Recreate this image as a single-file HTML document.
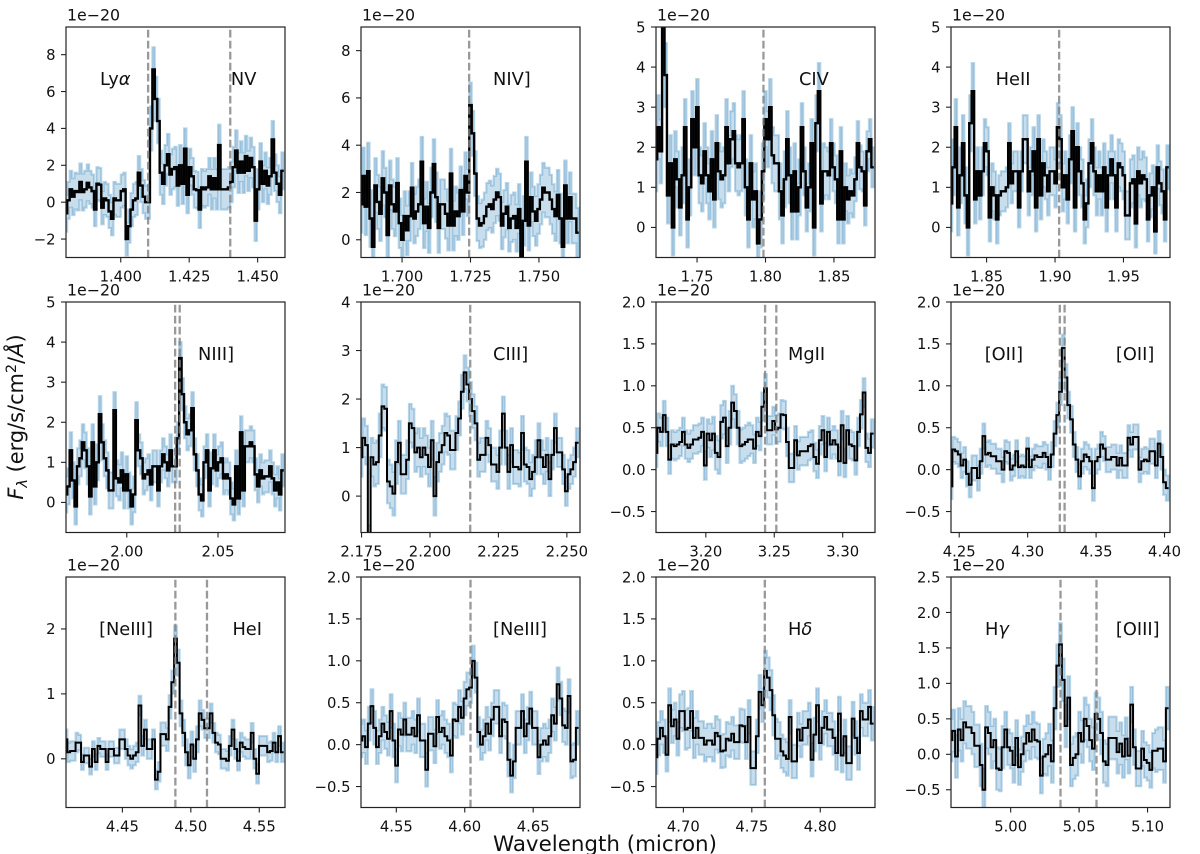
<!DOCTYPE html>
<html>
<head>
<meta charset="utf-8">
<style>
html,body{margin:0;padding:0;background:#fff;}
svg{display:block;}
text{font-family:"DejaVu Sans","Liberation Sans",sans-serif;fill:#111;}
</style>
</head>
<body>
<svg id="chart" width="1200" height="854" viewBox="0 0 1200 854" xmlns="http://www.w3.org/2000/svg">
<text x="605" y="851" font-size="21.4" text-anchor="middle">Wavelength (micron)</text>
<text transform="translate(23,417) rotate(-90)" font-size="20.9" text-anchor="middle"><tspan font-style="italic">F</tspan><tspan font-size="14.5" dy="4" font-style="italic">λ</tspan><tspan dy="-4"> (erg/s/cm</tspan><tspan font-size="14.5" dy="-7">2</tspan><tspan dy="7">/</tspan><tspan font-style="italic">Å</tspan><tspan>)</tspan></text>
</svg>
<script>
// ---- series values (flux per bin, units of 1e-20) ----
const fluxLya = [
-0.6,0.1,0.7,0.3,0.6,0.55,1.1,0.55,0.7,1.05,
0.8,0.6,-0.4,1.0,0.95,-0.3,0.2,0.1,-0.5,-0.9,
0.2,0.1,0.1,0.6,0.7,-2.0,-1.3,-0.4,0.1,0.2,
1.6,0.9,0.3,0.0,0.0,4.0,7.2,5.6,4.4,1.6,
1.0,2.0,2.6,1.5,1.8,1.9,0.9,2.0,1.0,2.9,
0.4,1.9,1.4,0.7,0.65,-0.4,0.8,0.7,0.8,1.4,
0.7,1.3,0.7,3.1,0.7,0.7,0.7,0.8,1.1,1.9,
2.8,1.6,2.2,1.6,2.5,1.7,2.4,1.9,-1.0,0.7,
2.2,1.0,1.7,0.9,1.4,3.4,1.6,1.0,0.4,1.7];
const errLya = [1.0,1.0,0.9,0.9,0.9,0.9,0.9,1.2,1.1,1.1,1.0,1.0,1.1,1.1,1.1,1.1,1.0,1.0];

const fluxNiv = [
1.5,2.7,1.4,2.9,0.9,-0.3,2.3,1.6,1.1,2.6,
2.0,0.2,2.3,1.5,1.2,2.4,0.7,0.0,1.0,0.4,
1.0,2.2,0.9,1.2,1.5,3.3,0.7,1.4,0.5,2.0,
3.2,1.8,0.5,1.5,1.5,1.1,0.6,2.8,0.6,1.2,
1.0,2.1,1.2,2.7,2.0,5.7,4.5,2.8,0.9,0.6,
0.7,1.0,1.4,1.5,1.3,1.7,2.0,1.8,0.6,1.1,
1.4,0.5,0.9,1.0,0.5,1.3,-0.8,0.8,3.3,0.6,
1.8,1.2,0.8,1.3,1.7,2.2,2.0,2.0,1.7,1.3,
1.0,1.9,0.9,-0.3,2.3,0.9,1.8,0.9,0.9,0.3];
const errNiv = [1.2,1.15,1.05,1.05,1.05,1.05,1.05,1.05,1.0,0.95,1.0,1.0,1.0,1.05,1.05,1.05,1.05,1.05];

const fluxCiv = [
1.7,2.5,1.9,5.2,3.8,0.8,1.6,0.0,1.7,1.2,
0.5,1.3,2.5,0.2,1.0,2.7,2.0,3.0,1.3,1.1,
1.9,1.3,0.9,1.7,0.7,2.1,1.4,1.2,1.3,2.5,
1.6,2.2,2.4,1.6,1.5,1.6,2.7,1.0,0.2,1.6,
0.7,0.9,-0.4,0.2,1.4,2.7,2.2,3.0,1.8,1.6,
1.6,0.9,0.3,1.2,2.2,1.3,0.4,1.4,0.4,1.0,
2.5,1.4,0.5,1.0,2.1,0.0,2.6,3.4,0.6,1.4,
1.4,1.3,2.1,1.5,1.2,0.2,1.9,0.2,1.0,0.7,
0.9,0.8,1.2,2.1,1.5,1.4,0.55,1.9,2.2,1.5];
const errCiv = [0.8,0.7,0.7,0.7,0.7,0.7,0.7,0.7,0.7,0.7,0.7,0.7,0.6,0.7,0.6,0.6,0.55,0.5];

const fluxHeii = [
0.6,1.5,2.5,0.5,1.3,2.1,0.8,0.0,2.6,3.4,
0.7,1.4,0.8,1.4,2.1,1.9,0.25,1.0,0.8,0.2,
0.8,0.9,0.9,1.0,2.1,1.1,1.4,1.4,0.5,1.4,
2.2,2.2,0.9,1.4,1.9,0.5,2.2,0.8,1.6,1.3,
0.9,1.4,1.4,1.1,2.5,2.2,1.0,1.3,0.7,1.7,
2.4,0.5,2.0,1.4,1.1,0.2,0.6,1.6,2.1,1.4,
0.9,1.3,0.9,1.5,0.5,1.3,1.7,1.3,0.5,1.6,
1.5,1.3,0.3,0.3,1.1,1.2,0.1,1.4,1.1,1.3,
1.2,0.2,0.8,1.0,-0.1,1.5,1.1,0.9,0.2,1.5];
const errHeii = [0.7,0.7,0.6,0.6,0.5,0.5,0.6,0.6,0.6,0.6,0.6,0.6,0.6,0.6,0.6,0.6,0.55,0.55];

const fluxNiii = [
0.2,0.4,1.3,0.55,-0.1,0.9,1.1,1.5,1.3,0.9,
0.15,1.5,0.4,1.0,2.2,1.5,1.1,0.8,0.3,0.3,
2.3,0.6,0.5,0.8,0.3,0.7,0.3,-0.1,0.2,2.05,
1.3,1.1,0.6,0.7,0.8,0.45,0.9,0.9,0.3,0.9,
1.2,1.0,0.8,1.3,0.9,0.9,1.6,3.6,2.7,2.0,
1.7,1.8,2.35,1.2,0.8,0.2,0.05,1.0,1.3,0.3,
0.85,1.3,0.8,1.0,1.1,0.6,0.7,0.6,0.1,-0.05,
0.9,0.1,1.75,0.3,1.4,1.4,1.5,1.4,0.7,0.4,
0.8,0.6,0.65,0.65,0.9,0.6,0.3,0.5,0.2,0.8];
const errNiii = [0.45,0.45,0.45,0.45,0.45,0.45,0.4,0.4,0.4,0.4,0.4,0.4,0.4,0.4,0.4,0.4,0.4,0.4];

const fluxCiii = [
0.8,1.2,1.05,-1.0,0.8,0.65,0.7,1.25,1.85,1.8,
0.3,0.2,0.05,0.7,1.1,0.45,0.45,0.75,1.5,1.4,
0.9,1.0,0.8,1.0,0.85,0.6,1.15,0.0,0.7,0.9,
1.05,1.3,1.25,0.95,0.95,1.3,1.6,2.15,2.55,2.3,
2.0,1.75,1.5,0.75,0.85,0.85,1.2,1.05,0.65,0.65,
0.5,1.0,1.7,1.0,0.5,1.05,0.6,0.6,0.55,1.3,
0.65,0.6,0.35,0.5,0.8,1.15,0.8,0.6,0.85,0.35,
0.85,1.4,0.9,0.9,0.55,0.1,0.45,0.55,0.7,1.1];
const errCiii = [0.4,0.45,0.45,0.4,0.4,0.4,0.4,0.35,0.35,0.35,0.35,0.35,0.35,0.35,0.3,0.3];

const fluxMgii = [
0.2,0.5,0.45,0.65,0.45,0.12,0.3,0.28,0.3,0.33,
0.45,0.3,0.26,0.3,0.36,0.36,0.38,0.45,0.05,0.43,
0.35,0.43,0.2,0.15,0.57,0.62,0.28,0.5,0.8,0.7,
0.5,0.28,0.3,0.33,0.36,0.36,0.25,0.45,0.4,0.75,
0.97,0.47,0.47,0.58,0.48,0.5,0.66,0.65,0.33,0.02,
0.02,0.35,0.17,0.22,0.22,0.22,0.28,0.3,0.15,0.07,
0.35,0.47,0.15,0.45,0.3,0.35,0.3,0.1,0.53,0.08,
0.47,0.3,0.28,0.11,0.45,0.66,0.92,0.26,0.2,0.43];
const errMgii = [0.17,0.17,0.17,0.17,0.2,0.2,0.2,0.17,0.17,0.17,0.17,0.17,0.17,0.17,0.17,0.17];

const fluxOii = [
-0.2,0.24,0.22,0.18,0.05,0.12,-0.05,-0.18,0.02,0.02,
-0.1,0.1,0.4,0.18,0.2,0.16,0.16,0.1,0.1,0.0,
0.22,0.2,0.0,0.05,0.22,0.03,0.05,0.03,0.25,0.03,
0.12,0.17,0.15,0.15,0.2,0.15,0.03,0.18,0.43,0.65,
0.93,1.45,1.1,0.77,0.6,0.3,0.12,-0.08,0.1,0.18,
0.15,0.1,-0.22,0.1,0.15,0.3,0.25,0.12,0.12,0.15,
0.15,0.05,0.14,0.05,0.05,0.38,0.3,0.39,0.39,0.0,
0.1,0.12,0.1,0.22,0.22,0.05,0.31,0.15,-0.15,-0.22];
const errOii = [0.15,0.15,0.15,0.15,0.13,0.13,0.13,0.15,0.16,0.15,0.15,0.15,0.15,0.15,0.15,0.15];

const fluxNeiiiA = [
0.3,0.1,0.12,0.12,0.25,0.25,-0.05,0.05,0.05,-0.12,
0.15,-0.05,0.2,0.15,0.15,-0.05,0.15,0.15,0.05,0.05,
0.3,0.3,0.15,0.05,0.0,0.05,0.1,0.82,0.2,0.45,
0.15,0.15,0.3,-0.32,-0.2,0.38,0.38,0.3,0.8,1.18,
1.85,1.48,0.7,0.4,0.1,-0.1,0.22,0.0,0.3,0.7,
0.6,0.47,0.47,0.7,0.4,0.25,0.22,0.0,0.0,-0.03,
0.2,0.45,0.15,-0.03,0.25,0.18,0.15,0.15,0.4,0.0,
-0.23,0.2,0.2,0.2,0.1,0.12,0.25,0.1,0.35,0.1];
const errNeiiiA = [0.15,0.12,0.12,0.12,0.15,0.15,0.15,0.18,0.2,0.2,0.15,0.15,0.15,0.15,0.15,0.15];

const fluxNeiiiB = [
0.05,0.1,-0.03,0.25,0.46,0.2,-0.03,0.1,0.25,0.15,
0.07,0.4,0.05,-0.25,0.18,0.12,0.3,0.12,0.12,0.2,
0.1,0.35,0.05,0.05,-0.3,0.13,0.13,-0.02,0.33,0.15,
0.2,0.1,0.05,-0.13,0.3,0.28,0.45,0.32,0.55,0.66,
0.68,1.0,0.8,0.15,0.0,0.1,0.25,0.13,0.3,0.45,
0.45,0.1,0.3,0.27,-0.18,-0.37,-0.2,0.2,0.2,0.4,
0.1,0.25,0.43,0.2,0.2,-0.15,0.0,0.05,0.0,0.1,
0.35,0.25,0.72,0.55,0.23,0.2,0.58,-0.2,-0.18,0.2];
const errNeiiiB = [0.2,0.2,0.2,0.2,0.2,0.2,0.2,0.2,0.18,0.2,0.2,0.2,0.2,0.2,0.2,0.2];

const fluxHd = [
-0.15,0.07,0.2,0.1,-0.12,0.47,0.22,0.3,0.07,0.4,
0.4,0.18,0.2,0.4,0.08,0.2,0.08,0.08,0.0,0.05,
0.05,0.0,0.14,0.1,-0.08,-0.07,0.07,0.05,0.13,0.03,
0.03,0.23,0.22,0.03,0.33,-0.28,-0.28,0.1,0.63,0.47,
0.88,0.8,0.65,0.35,0.07,0.07,-0.08,-0.13,-0.17,0.33,
-0.2,-0.2,0.18,0.05,0.2,0.2,0.3,-0.18,0.12,0.47,
0.02,0.2,0.33,0.18,0.18,0.08,-0.1,0.37,-0.13,0.1,
-0.22,-0.22,0.31,0.08,-0.1,0.4,0.3,0.3,0.45,0.25];
const errHd = [0.2,0.2,0.24,0.2,0.2,0.2,0.2,0.2,0.24,0.2,0.2,0.2,0.2,0.2,0.2,0.2];

const fluxHg = [
0.2,0.33,-0.03,0.35,0.2,0.45,0.38,0.38,0.3,0.12,
0.12,-0.15,-0.5,0.38,0.3,0.1,0.2,-0.2,-0.22,0.1,
0.35,0.1,0.05,-0.15,0.23,-0.18,0.0,0.15,0.3,0.18,
0.35,0.2,0.18,-0.3,-0.03,0.0,0.13,-0.1,0.65,1.25,
1.55,1.05,0.4,0.8,-0.15,-0.05,0.0,0.3,0.18,0.5,
0.4,0.2,0.08,0.57,0.5,0.3,-0.1,-0.15,0.23,0.23,
0.23,0.03,0.15,-0.03,0.22,-0.02,0.7,0.1,-0.2,-0.2,
0.08,-0.08,-0.12,-0.22,0.05,0.05,0.08,0.08,-0.1,0.65];
const errHg = [0.3,0.3,0.3,0.3,0.25,0.25,0.25,0.3,0.3,0.3,0.3,0.3,0.3,0.25,0.25,0.3];

// ---- axis limits ----
const xLimits = [[1.38,1.46],[1.685,1.765],[1.72,1.88],[1.824,1.984],
                 [1.9667,2.0867],[2.1748,2.2548],[3.1636,3.3236],[4.244,4.404],
                 [4.4088,4.5688],[4.5242,4.6842],[4.68,4.84],[4.9564,5.1164]];
const yLimits = [[-3,9.5],[-0.75,9],[-0.75,5],[-0.75,5],
                 [-0.75,5],[-0.75,4],[-0.75,2],[-0.75,2],
                 [-0.75,2.8],[-0.75,2],[-0.75,2],[-0.75,2.5]];

// ---- tick labels ----
const xTickLabels = [["1.400","1.425","1.450"],["1.700","1.725","1.750"],["1.75","1.80","1.85"],["1.85","1.90","1.95"],
                     ["2.00","2.05"],["2.175","2.200","2.225","2.250"],["3.20","3.25","3.30"],["4.25","4.30","4.35","4.40"],
                     ["4.45","4.50","4.55"],["4.55","4.60","4.65"],["4.70","4.75","4.80"],["5.00","5.05","5.10"]];
const yTickLabels = [["−2","0","2","4","6","8"],["0","2","4","6","8"],["0","1","2","3","4","5"],["0","1","2","3","4","5"],
                     ["0","1","2","3","4","5"],["0","1","2","3","4"],["−0.5","0.0","0.5","1.0","1.5","2.0"],["−0.5","0.0","0.5","1.0","1.5","2.0"],
                     ["0","1","2"],["−0.5","0.0","0.5","1.0","1.5","2.0"],["−0.5","0.0","0.5","1.0","1.5","2.0"],["−0.5","0.0","0.5","1.0","1.5","2.0","2.5"]];

// ---- emission line wavelengths and names ----
const lineWaves = [[1.41,1.44],[1.7245],[1.7985],[1.903],
                   [2.0265,2.029],[2.2147],[3.2433,3.2515],[4.3235,4.327],
                   [4.4887,4.5118],[4.6042],[4.7595],[5.0364,5.0627]];
const lineNames = [["Ly|α","NV"],["NIV]"],["CIV"],["HeII"],
                   ["NIII]"],["CIII]"],["MgII"],["[OII]","[OII]"],
                   ["[NeIII]","HeI"],["[NeIII]"],["H|δ"],["H|γ","[OIII]"]];
const nameFractions = [[0.155,0.753],[0.603],[0.653],[0.204],
                       [0.603],[0.603],[0.603],[0.154,0.753],
                       [0.151,0.76],[0.603],[0.603],[0.155,0.753]];
const fluxSeries = [fluxLya,fluxNiv,fluxCiv,fluxHeii,fluxNiii,fluxCiii,fluxMgii,fluxOii,fluxNeiiiA,fluxNeiiiB,fluxHd,fluxHg];
const errSeries = [errLya,errNiv,errCiv,errHeii,errNiii,errCiii,errMgii,errOii,errNeiiiA,errNeiiiB,errHd,errHg];
const panelNames = ["lya-nv","niv","civ","heii","niii","ciii","mgii","oii","neiii-hei","neiii","h-delta","h-gamma-oiii"];

// ---- layout ----
const colLefts = [66,361,656,951];
const rowTops = [27,302,577];
const axW = 219, axH = 230.5;
const NS = "http://www.w3.org/2000/svg";
const svg = document.getElementById("chart");

function mk(tag, attrs, parent){
  const el = document.createElementNS(NS, tag);
  for (const k in attrs) el.setAttribute(k, attrs[k]);
  parent.appendChild(el);
  return el;
}
function stepPath(xs, ys, half, xOf, yOf){
  let d = "";
  for (let i = 0; i < xs.length; i++){
    const a = xOf(xs[i]-half).toFixed(2), b = xOf(xs[i]+half).toFixed(2), y = yOf(ys[i]).toFixed(2);
    d += (i === 0 ? "M" : "L") + a + " " + y + "L" + b + " " + y;
  }
  return d;
}

fluxSeries.forEach(function(flux, p){
  const left = colLefts[p % 4], top = rowTops[Math.floor(p / 4)], bottom = top + axH;
  const xl = xLimits[p], yl = yLimits[p];
  const xOf = function(v){ return left + (v - xl[0]) / (xl[1] - xl[0]) * axW; };
  const yOf = function(v){ return bottom - (v - yl[0]) / (yl[1] - yl[0]) * axH; };

  const g = mk("g", {}, svg);
  
  

  const clip = mk("clipPath", {id: "clip" + p}, g);
  mk("rect", {x: left, y: top, width: axW, height: axH}, clip);

  // wavelength grid for the bins of this panel
  const n = flux.length, dw = (xl[1] - xl[0]) / n;
  const waves = flux.map(function(_, i){ return xl[0] + i * dw; });
  const errs = errSeries[p];
  const errAt = function(i){ return errs[Math.min(errs.length - 1, Math.floor(i / n * errs.length))]; };
  const upper = flux.map(function(f, i){ return f + errAt(i); });
  const lower = flux.map(function(f, i){ return f - errAt(i); });

  const up = stepPath(waves, upper, dw / 2, xOf, yOf);
  const lo = stepPath(waves.slice().reverse(), lower.slice().reverse(), -dw / 2, xOf, yOf);
  const band = mk("path", {d: up + lo.replace(/^M/, "L") + "Z", fill: "#1f77b4", "fill-opacity": 0.24,
    stroke: "#1f77b4", "stroke-opacity": 0.3, "stroke-width": 2.1, "clip-path": "url(#clip" + p + ")"}, g);
  
  

  const line = mk("path", {d: stepPath(waves, flux, dw / 2, xOf, yOf), fill: "none", stroke: "#000",
    "stroke-width": p < 5 ? 2.4 : 2, "stroke-linejoin": "miter", "clip-path": "url(#clip" + p + ")"}, g);
  
  

  lineWaves[p].forEach(function(w){
    const lx = xOf(w);
    const mark = mk("line", {x1: lx, x2: lx, y1: bottom, y2: top, stroke: "#808080", "stroke-opacity": 0.8,
      "stroke-width": 2.3, "stroke-dasharray": "7.7 3.3"}, g);
    
    
  });

  const frame = mk("rect", {x: left, y: top, width: axW, height: axH, fill: "none", stroke: "#222", "stroke-width": 1.2}, g);
  
  

  xTickLabels[p].forEach(function(lbl){
    const tx = xOf(parseFloat(lbl));
    const tick = mk("line", {x1: tx, x2: tx, y1: bottom, y2: bottom + 5, stroke: "#222", "stroke-width": 1.1}, g);
    
    
    const t = mk("text", {x: tx, y: bottom + 24, "font-size": 14.8, "text-anchor": "middle"}, g);
    
    
    t.textContent = lbl;
  });

  yTickLabels[p].forEach(function(lbl){
    const ty = yOf(parseFloat(lbl.replace("−", "-")));
    const tick = mk("line", {x1: left - 5, x2: left, y1: ty, y2: ty, stroke: "#222", "stroke-width": 1.1}, g);
    
    
    const t = mk("text", {x: left - 10.5, y: ty + 5.3, "font-size": 14.8, "text-anchor": "end"}, g);
    
    
    t.textContent = lbl;
  });

  const off = mk("text", {x: left + 1, y: top - 6.5, "font-size": 15.8}, g);
  
  
  off.textContent = "1e−20";

  lineNames[p].forEach(function(name, k){
    const parts = name.split("|");
    const t = mk("text", {x: left + nameFractions[p][k] * axW, y: top + 58, "font-size": 17.8}, g);
    
    
    t.textContent = parts[0];
    if (parts[1]){
      const ts = mk("tspan", {"font-style": "italic"}, t);
      ts.textContent = parts[1];
    }
  });
});
</script>
</body>
</html>
